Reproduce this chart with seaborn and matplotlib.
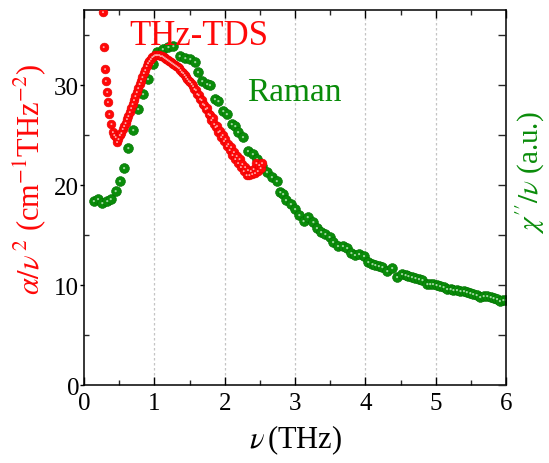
import numpy as np
import pandas as pd
import matplotlib
matplotlib.use("Agg")
import matplotlib.pyplot as plt
import seaborn as sns
from matplotlib.ticker import MultipleLocator

# THz-TDS absorption spectrum, alpha / nu^2 (cm^-1 THz^-2)
tds_freq = [0.27, 0.28, 0.30, 0.31, 0.33, 0.34, 0.36, 0.39, 0.41, 0.43,
            0.45, 0.47, 0.49, 0.51, 0.53, 0.55, 0.57, 0.59, 0.61, 0.63,
            0.65, 0.67, 0.69, 0.71, 0.73, 0.75, 0.77, 0.79, 0.81, 0.83,
            0.85, 0.87, 0.89, 0.91, 0.93, 0.95, 0.97, 0.99, 1.01, 1.03,
            1.05, 1.07, 1.09, 1.11, 1.13, 1.15, 1.17, 1.19, 1.21, 1.23,
            1.25, 1.27, 1.29, 1.31, 1.33, 1.35, 1.37, 1.39, 1.41, 1.43,
            1.45, 1.47, 1.49, 1.51, 1.53, 1.55, 1.57, 1.59, 1.61, 1.63,
            1.65, 1.67, 1.69, 1.71, 1.73, 1.75, 1.77, 1.79, 1.81, 1.83,
            1.85, 1.87, 1.89, 1.91, 1.93, 1.95, 1.97, 1.99, 2.01, 2.03,
            2.05, 2.07, 2.09, 2.11, 2.13, 2.15, 2.17, 2.19, 2.21, 2.23,
            2.25, 2.27, 2.29, 2.31, 2.33, 2.35, 2.37, 2.39, 2.41, 2.43,
            2.45, 2.47, 2.49, 2.51, 2.53]
tds_alpha = [37.3, 33.8, 31.6, 30.4, 29.3, 28.3, 27.1, 26.1, 25.3, 25.0,
             24.8, 24.3, 24.6, 25.0, 25.2, 25.6, 25.9, 26.2, 26.6, 26.9,
             27.3, 27.7, 28.1, 28.5, 28.9, 29.3, 29.7, 30.1, 30.4, 30.8,
             31.2, 31.5, 31.9, 32.2, 32.4, 32.6, 32.8, 32.9, 33.0, 33.0,
             33.0, 33.0, 32.9, 32.9, 32.8, 32.7, 32.6, 32.5, 32.4, 32.3,
             32.2, 32.1, 32.0, 31.9, 31.8, 31.7, 31.5, 31.3, 31.2, 31.0,
             30.8, 30.6, 30.4, 30.3, 30.1, 29.9, 29.6, 29.5, 29.1, 29.0,
             28.6, 28.5, 28.1, 28.0, 27.6, 27.7, 27.1, 27.0, 26.5, 26.7,
             26.1, 25.8, 25.9, 25.3, 25.4, 24.8, 25.0, 24.4, 24.6, 23.9,
             24.1, 23.5, 23.8, 23.0, 23.3, 22.6, 22.9, 22.2, 22.6, 21.8,
             22.1, 21.4, 21.8, 21.0, 21.5, 21.0, 21.4, 21.1, 21.6, 21.2,
             22.2, 21.4, 22.0, 21.7, 22.2]

# Raman susceptibility, chi'' / nu (arbitrary units)
raman_freq = [0.14, 0.20, 0.26, 0.33, 0.38, 0.45, 0.51, 0.57, 0.63, 0.70,
              0.77, 0.84, 0.91, 0.98, 1.04, 1.12, 1.20, 1.27, 1.36, 1.44,
              1.51, 1.58, 1.62, 1.68, 1.75, 1.79, 1.86, 1.91, 1.98, 2.03,
              2.10, 2.15, 2.19, 2.26, 2.33, 2.40, 2.46, 2.53, 2.60, 2.67,
              2.74, 2.79, 2.83, 2.87, 2.94, 3.00, 3.06, 3.12, 3.18, 3.26,
              3.31, 3.37, 3.43, 3.49, 3.54, 3.61, 3.68, 3.74, 3.80, 3.85,
              3.91, 3.98, 4.04, 4.10, 4.14, 4.19, 4.24, 4.31, 4.38, 4.45,
              4.52, 4.57, 4.61, 4.66, 4.71, 4.76, 4.81, 4.88, 4.92, 4.96,
              5.01, 5.06, 5.11, 5.16, 5.21, 5.25, 5.30, 5.35, 5.40, 5.44,
              5.49, 5.53, 5.58, 5.63, 5.68, 5.73, 5.78, 5.82, 5.87, 5.91,
              5.96, 6.00]
raman_chi = [18.4, 18.6, 18.2, 18.4, 18.6, 19.4, 20.4, 21.7, 23.7, 25.5,
             27.6, 29.1, 30.6, 32.1, 33.3, 33.6, 33.8, 33.9, 32.9, 32.7,
             32.6, 32.3, 31.3, 30.4, 30.1, 30.0, 28.6, 28.4, 27.4, 27.1,
             26.1, 25.9, 25.3, 24.8, 23.4, 23.1, 22.6, 21.9, 21.3, 20.8,
             20.4, 19.3, 19.1, 18.5, 18.1, 17.6, 17.0, 16.4, 16.8, 16.3,
             15.7, 15.3, 15.1, 14.8, 14.3, 13.9, 13.9, 13.7, 13.2, 13.0,
             13.1, 12.9, 12.3, 12.1, 12.0, 11.9, 11.8, 11.4, 11.7, 10.8,
             11.1, 11.0, 10.9, 10.8, 10.7, 10.6, 10.5, 10.1, 10.1, 10.1,
             10.0, 9.9, 9.8, 9.6, 9.6, 9.5, 9.5, 9.4, 9.4, 9.3,
             9.2, 9.1, 9.0, 8.8, 8.9, 8.9, 8.8, 8.7, 8.6, 8.4,
             8.5, 8.5]

tds = pd.DataFrame({"freq": tds_freq, "value": tds_alpha})
raman = pd.DataFrame({"freq": raman_freq, "value": raman_chi})

RED = "#ff0808"
RED_EDGE = "#e80000"
GREEN = "#0a8c0a"
GREEN_EDGE = "#007000"

sns.set_theme(style="white")
plt.rcParams["font.family"] = ["Liberation Serif", "DejaVu Serif"]
plt.rcParams["mathtext.fontset"] = "stix"

fig = plt.figure(figsize=(5.49, 4.64), dpi=100)
ax = fig.add_axes([0.153, 0.168, 0.769, 0.808])

# vertical dotted guides at the integer frequencies
for xv in [1, 2, 3, 4, 5]:
    ax.axvline(xv, color="#c4c4c4", lw=0.9, ls=(0, (2, 2)), zorder=0)

# spherical-looking markers: solid disc plus a pale highlight
sns.scatterplot(data=raman, x="freq", y="value", ax=ax, s=50, color=GREEN,
                edgecolor=GREEN_EDGE, linewidth=0.4, zorder=2, legend=False)
sns.scatterplot(data=raman, x="freq", y="value", ax=ax, s=2.5, color="#9fd89f",
                edgecolor="none", linewidth=0, zorder=2.1, legend=False)
sns.scatterplot(data=tds, x="freq", y="value", ax=ax, s=40, color=RED,
                edgecolor=RED_EDGE, linewidth=0.4, zorder=3, legend=False)
sns.scatterplot(data=tds, x="freq", y="value", ax=ax, s=2, color="#ffaaaa",
                edgecolor="none", linewidth=0, zorder=3.1, legend=False)

ax.set_xlim(0, 6)
ax.set_ylim(0, 37.5)
ax.xaxis.set_major_locator(MultipleLocator(1))
ax.xaxis.set_minor_locator(MultipleLocator(0.5))
ax.yaxis.set_major_locator(MultipleLocator(10))
ax.yaxis.set_minor_locator(MultipleLocator(5))

for side in ["left", "right", "top", "bottom"]:
    ax.spines[side].set_visible(True)
    ax.spines[side].set_color("black")
    ax.spines[side].set_linewidth(1.1)

ax.tick_params(axis="x", which="major", direction="in", length=6, width=1.0,
               top=True, bottom=True, labelsize=18, pad=5, colors="black")
ax.tick_params(axis="x", which="minor", direction="in", length=3.5, width=1.0,
               top=True, bottom=True)
ax.tick_params(axis="y", which="major", direction="out", length=3, width=1.0,
               left=True, right=False, labelsize=18, pad=0.5, colors="black")
ax.tick_params(axis="y", which="minor", direction="in", length=3.5, width=1.0,
               left=True, right=False)

ax.set_xlabel(r"$\nu\,$(THz)", fontsize=22, labelpad=6, color="black")
ax.set_ylabel(r"$\alpha/\nu^{\,2}$ (cm$^{-1}$THz$^{-2}$)", fontsize=22,
              color=RED)
ax.yaxis.set_label_coords(-0.085, 0.55)

# right-hand axis for the Raman response (ticks only)
ax2 = ax.twinx()
ax2.set_ylim(ax.get_ylim())
ax2.yaxis.set_major_locator(MultipleLocator(10))
ax2.yaxis.set_minor_locator(MultipleLocator(5))
ax2.tick_params(axis="y", which="major", direction="in", length=6, width=1.0,
                labelright=False, right=True)
ax2.tick_params(axis="y", which="minor", direction="in", length=6, width=1.0,
                right=True)
for side in ["left", "right", "top", "bottom"]:
    ax2.spines[side].set_visible(False)
ax2.set_ylabel(r"$\chi''/\nu$ (a.u.)", fontsize=21, color=GREEN)
ax2.yaxis.set_label_coords(1.017, 0.57)
ax2.grid(False)
ax.grid(False)

ax.text(1.63, 35.0, "THz-TDS", color=RED, fontsize=25, ha="center",
        va="center")
ax.text(2.99, 29.3, "Raman", color=GREEN, fontsize=24, ha="center",
        va="center")

fig.savefig("out.png", dpi=100)
